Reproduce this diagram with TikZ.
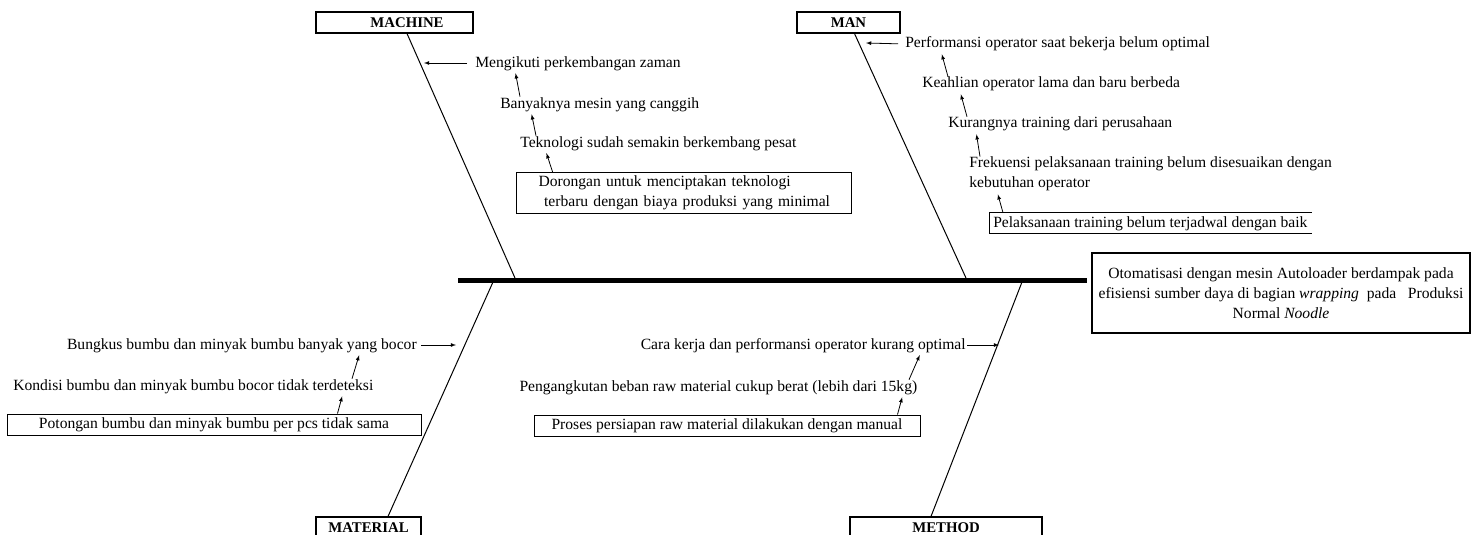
\documentclass[tikz,border=0pt]{standalone}
\usepackage{fontspec}
\setmainfont{Liberation Serif}
\usepackage{tikz}
\usetikzlibrary{arrows}

\begin{document}
\begin{tikzpicture}[x=1pt,y=-1pt,semithick,font=\fontsize{15.6}{20}\selectfont]
	\tikzstyle{catbox}=[draw, line width=1.1pt, minimum height=21pt, inner sep=0pt, font=\fontsize{14.8}{18}\selectfont\bfseries]
	\tikzstyle{cause}=[inner sep=0pt, text height=11pt, text depth=3pt]
	\tikzstyle{causebox}=[draw, line width=1pt, inner sep=0pt]
	\tikzstyle{bone}=[line width=1pt]
	\tikzstyle{sub}=[-latex, line width=0.8pt, shorten >=3pt]
	\useasboundingbox (0,0) rectangle (1476,535);

	% categories and effect
	\node[catbox, minimum width=157pt] (machine) at (394.5,22.5) {\hspace*{25pt}MACHINE};
	\node[catbox, minimum width=103pt] (man) at (848.5,22.5) {MAN};
	\node[catbox, minimum width=105pt] (material) at (368.5,527.5) {MATERIAL};
	\node[catbox, minimum width=192pt] (method) at (946,527.5) {METHOD};
	\node[draw, line width=1.1pt, minimum width=378pt, minimum height=80pt, align=center] (effect) at (1281,293)
		{Otomatisasi dengan mesin Autoloader berdampak pada\\efisiensi sumber daya di bagian \textit{wrapping}\ \ pada\ \ \ Produksi\\Normal \textit{Noodle}};

	% spine and bones
	\coordinate (tail) at (458,280);
	\coordinate (machj) at (515,278);
	\coordinate (manj) at (966,278);
	\coordinate (matj) at (493,282);
	\coordinate (methj) at (1022,282);
	\draw[line width=5pt, shorten >=4pt] (tail) -- (tail -| effect.west);
	\foreach \cat/\cx/\j in {machine.south/12.5/machj, man.south/6/manj, material.north/19.5/matj, method.north/-15/methj}{
		\draw[bone] ([xshift=\cx pt]\cat) -- (\j);
		}

	% machine
	\node[cause, anchor=west] (mach1) at (475,63) {Mengikuti perkembangan zaman};
	\node[cause, anchor=west] (mach2) at (500,104) {Banyaknya mesin yang canggih};
	\node[cause, anchor=west] (mach3) at (520,143) {Teknologi sudah semakin berkembang pesat};
	\node[causebox, anchor=north west, minimum width=335pt, minimum height=41pt, text width=325pt, inner xsep=5pt, align=left] (mach4) at (516,172)
		{\hspace*{17pt}Dorongan untuk menciptakan teknologi\\\hspace*{22.6pt}terbaru dengan biaya produksi yang minimal};

	% man
	\node[cause, anchor=west] (man1) at (905,44) {Performansi operator saat bekerja belum optimal};
	\node[cause, anchor=west] (man2) at (922,84) {Keahlian operator lama dan baru berbeda};
	\node[cause, anchor=west] (man3) at (948,124) {Kurangnya training dari perusahaan};
	\node[inner sep=0pt, anchor=west, align=left] (man4) at (969,174) {Frekuensi pelaksanaan training belum disesuaikan dengan\\kebutuhan operator};
	\node[cause, anchor=west, inner xsep=4pt, minimum height=20pt] (man5) at (989,223) {Pelaksanaan training belum terjadwal dengan baik};
	\draw[line width=1pt] (man5.north east) -- (man5.north west) -- (man5.south west) -- (man5.south east);

	% material
	\node[cause, anchor=east] (mat1) at (417,345) {Bungkus bumbu dan minyak bumbu banyak yang bocor};
	\node[cause, anchor=west] (mat2) at (13,386) {Kondisi bumbu dan minyak bumbu bocor tidak terdeteksi};
	\node[causebox, minimum width=414pt, minimum height=21pt] (mat3) at (214,424.5) {Potongan bumbu dan minyak bumbu per pcs tidak sama};

	% method
	\node[cause, anchor=east] (meth1) at (966,345) {Cara kerja dan performansi operator kurang optimal};
	\node[cause, anchor=east] (meth2) at (917.5,387) {Pengangkutan beban raw material cukup berat (lebih dari 15kg)};
	\node[causebox, minimum width=386pt, minimum height=21pt] (meth3) at (727,425.5) {Proses persiapan raw material dilakukan dengan manual};

	% arrows into the bones
	\coordinate (machb) at (424,63);
	\coordinate (manb) at (866,43);
	\coordinate (matb) at (456,345);
	\coordinate (methb) at (999,345);
	\draw[sub, shorten >=0pt, shorten <=8pt] (mach1.west) -- (machb);
	\draw[sub, shorten >=0pt, shorten <=7pt] (man1.west) -- (manb);
	\draw[sub, shorten >=0pt, shorten <=4pt] (mat1.east) -- (matb);
	\draw[sub, shorten >=0pt, shorten <=1pt] (meth1.east) -- (methb);

	% arrows between causes
	\foreach \src/\sa/\sx/\dst/\da/\dx in {
		mach2/north west/20/mach1/south west/40, mach3/north west/16/mach2/south west/31, mach4/north west/36.6/mach3/south west/25.5,
		man2/north west/26/man1/south west/36, man3/north west/19/man2/south west/38, man4/north west/11/man3/south west/28, man5/north west/14/man4/south west/28,
		mat2/north west/339/mat1/south east/-57, mat3/north east/-84/mat2/south west/330,
		meth2/north east/-8.5/meth1/south east/-45, meth3/north east/-23/meth2/south east/-14.5}{
		\draw[sub] ([xshift=\sx pt]\src.\sa) -- ([xshift=\dx pt]\dst.\da);
		}
\end{tikzpicture}
\end{document}
